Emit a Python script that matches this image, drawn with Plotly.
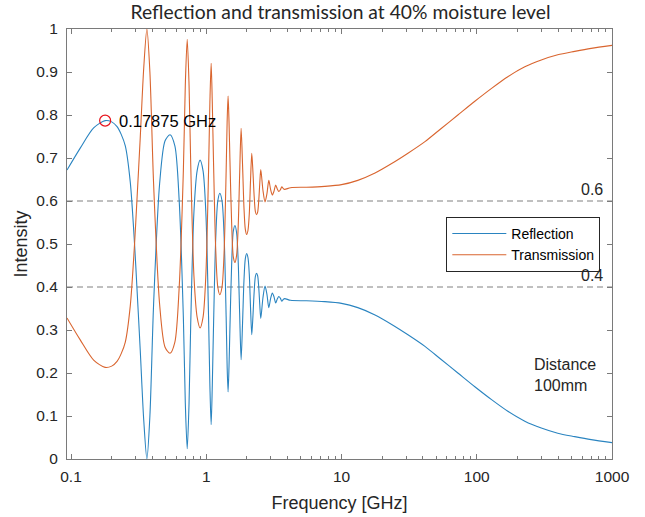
import plotly.graph_objects as go
import math

# ---------------- data ----------------
freq_ghz = [
    0.0934, 0.117, 0.147, 0.17875, 0.200, 0.219, 0.235, 0.252, 0.274, 0.295, 0.307, 0.325, 0.345, 0.364,
    0.383, 0.408, 0.452, 0.496, 0.540,
    0.586, 0.631, 0.677, 0.700, 0.723,
    0.746, 0.767, 0.811, 0.856, 0.900,
    0.947, 0.994, 1.040, 1.064, 1.087, 1.108,
    1.130, 1.174, 1.217, 1.260,
    1.308, 1.355, 1.403, 1.427, 1.450, 1.473,
    1.495, 1.540, 1.585, 1.630,
    1.675, 1.720, 1.765, 1.810,
    1.855, 1.900, 1.945, 1.990,
    2.035, 2.080, 2.125, 2.170,
    2.216, 2.262, 2.309, 2.355,
    2.399, 2.443, 2.486, 2.530,
    2.625, 2.720, 2.810, 2.900, 2.990, 3.080, 3.170, 3.260, 3.350, 3.440, 3.530, 3.620, 3.710, 3.800,
    4.2, 5.5, 7.5, 10.0, 13.2, 17.7, 23.5, 31.0, 41.4, 54.3, 72.5, 96.8, 128.7, 169.7, 226.6,
    300.0, 397.0, 530.0, 701.0, 1000.0,
]

reflection = [
    0.672, 0.723, 0.770, 0.787, 0.784, 0.773, 0.755, 0.728, 0.645, 0.500, 0.400, 0.253, 0.090, 0.000,
    0.100, 0.360, 0.640, 0.740, 0.754,
    0.728, 0.600, 0.330, 0.130, 0.024,
    0.130, 0.310, 0.575, 0.670, 0.695,
    0.670, 0.570, 0.330, 0.170, 0.080, 0.170,
    0.300, 0.510, 0.600, 0.618,
    0.600, 0.520, 0.330, 0.215, 0.156, 0.215,
    0.300, 0.450, 0.530, 0.543,
    0.527, 0.465, 0.340, 0.231,
    0.316, 0.415, 0.466, 0.478,
    0.468, 0.430, 0.352, 0.289,
    0.335, 0.390, 0.425, 0.432,
    0.426, 0.400, 0.360, 0.327,
    0.375, 0.402, 0.383, 0.352, 0.373, 0.386, 0.377, 0.363, 0.372, 0.378, 0.374, 0.367, 0.371, 0.373,
    0.369, 0.368, 0.366, 0.362, 0.352, 0.335, 0.313, 0.289, 0.262, 0.232, 0.200, 0.168, 0.138, 0.111, 0.088,
    0.072, 0.060, 0.052, 0.045, 0.038,
]

transmission = [
    0.328, 0.277, 0.230, 0.213, 0.216, 0.227, 0.245, 0.272, 0.355, 0.500, 0.600, 0.747, 0.910, 1.000,
    0.900, 0.640, 0.360, 0.260, 0.246,
    0.272, 0.400, 0.670, 0.870, 0.976,
    0.870, 0.690, 0.425, 0.330, 0.305,
    0.330, 0.430, 0.670, 0.830, 0.920, 0.830,
    0.700, 0.490, 0.400, 0.382,
    0.400, 0.480, 0.670, 0.785, 0.844, 0.785,
    0.700, 0.550, 0.470, 0.457,
    0.473, 0.535, 0.660, 0.769,
    0.684, 0.585, 0.534, 0.522,
    0.532, 0.570, 0.648, 0.711,
    0.665, 0.610, 0.575, 0.568,
    0.574, 0.600, 0.640, 0.673,
    0.625, 0.598, 0.617, 0.648, 0.627, 0.614, 0.623, 0.637, 0.628, 0.622, 0.626, 0.633, 0.629, 0.627,
    0.631, 0.632, 0.634, 0.638, 0.648, 0.665, 0.687, 0.711, 0.738, 0.768, 0.800, 0.832, 0.862, 0.889, 0.912,
    0.928, 0.940, 0.948, 0.955, 0.962,
]

peak_freq = [0.17875]
peak_value = [0.787]
peak_label = "0.17875 GHz"

ref_levels = [0.6, 0.4]
ref_labels = ["0.6", "0.4"]

x_tick_vals = [0.1, 1, 10, 100, 1000]
x_tick_text = ["0.1", "1", "10", "100", "1000"]
y_tick_vals = [0, 0.1, 0.2, 0.3, 0.4, 0.5, 0.6, 0.7, 0.8, 0.9, 1.0]
y_tick_text = ["0", "0.1", "0.2", "0.3", "0.4", "0.5", "0.6", "0.7", "0.8", "0.9", "1"]

x_min, x_max = 0.0934, 1000.0

# ---------------- figure ----------------
BLUE = "#2a84c0"
ORANGE = "#d9652f"
TXT = "#262626"
AX = "#7a7a7a"
FONT = "Liberation Sans"

fig = go.Figure()
fig.add_trace(go.Scatter(
    x=freq_ghz, y=reflection, mode="lines", name="Reflection",
    line=dict(color=BLUE, width=1.1, shape="spline", smoothing=0.8),
))
fig.add_trace(go.Scatter(
    x=freq_ghz, y=transmission, mode="lines", name="Transmission",
    line=dict(color=ORANGE, width=1.1, shape="spline", smoothing=0.8),
))
fig.add_trace(go.Scatter(
    x=peak_freq, y=peak_value, mode="markers", showlegend=False,
    marker=dict(symbol="circle-open", size=11, color="#e8121b", line=dict(width=1.2)),
))

shapes = []
annotations = []
for lvl, lab in zip(ref_levels, ref_labels):
    shapes.append(dict(type="line", xref="paper", x0=0, x1=1, yref="y", y0=lvl, y1=lvl,
                       line=dict(color="#808080", width=1, dash="6px,4px"), layer="below"))
    annotations.append(dict(text=lab, xref="paper", x=0.988, xanchor="right",
                            yref="y", y=lvl, yanchor="bottom", yshift=1, showarrow=False,
                            font=dict(family=FONT, size=16, color=TXT)))

annotations.append(dict(text=peak_label, xref="x", x=math.log10(peak_freq[0]), xshift=12,
                        xanchor="left", yref="y", y=peak_value[0], yanchor="middle",
                        showarrow=False, font=dict(family=FONT, size=16.5, color="#000000")))
annotations.append(dict(text="Distance<br>100mm", xref="paper", x=0.853, xanchor="left",
                        yref="paper", y=0.195, yanchor="middle", align="left",
                        showarrow=False, font=dict(family=FONT, size=16, color=TXT)))

fig.update_layout(
    width=645, height=517,
    margin=dict(l=67, r=33, t=29, b=58),
    paper_bgcolor="white", plot_bgcolor="white",
    title=dict(text="Reflection and transmission at 40% moisture level",
               x=0.528, xanchor="center", y=0.976, yanchor="middle",
               font=dict(family="Lato", size=19.3, color=TXT)),
    font=dict(family=FONT, size=15, color=TXT),
    showlegend=True,
    legend=dict(x=0.696, xanchor="left", y=0.499, yanchor="middle",
                bgcolor="white", bordercolor=TXT, borderwidth=1,
                font=dict(family=FONT, size=14, color="#000000"),
                itemwidth=54, tracegroupgap=0),
    shapes=shapes,
    annotations=annotations,
)

fig.update_xaxes(
    type="log", range=[math.log10(x_min), math.log10(x_max)],
    tickvals=x_tick_vals, ticktext=x_tick_text,
    ticks="inside", ticklen=5, tickcolor=AX, tickwidth=1,
    minor=dict(ticks="inside", ticklen=3, tickcolor=AX, dtick="D1", showgrid=False),
    showline=True, linecolor=AX, linewidth=1, mirror="ticks",
    showgrid=False, zeroline=False, automargin=False,
    tickfont=dict(family=FONT, size=15.5, color=TXT),
    ticklabelstandoff=3,
    title=dict(text="Frequency [GHz]", font=dict(family=FONT, size=18, color=TXT), standoff=12),
)
fig.update_yaxes(
    range=[0, 1], tickvals=y_tick_vals, ticktext=y_tick_text,
    ticks="inside", ticklen=5, tickcolor=AX, tickwidth=1,
    showline=True, linecolor=AX, linewidth=1, mirror="ticks",
    showgrid=False, zeroline=False, automargin=False,
    tickfont=dict(family=FONT, size=15.5, color=TXT),
    ticklabelstandoff=5,
    title=dict(text="Intensity", font=dict(family=FONT, size=18, color=TXT), standoff=4),
)

fig.write_html("out.html", config={"displayModeBar": False})
